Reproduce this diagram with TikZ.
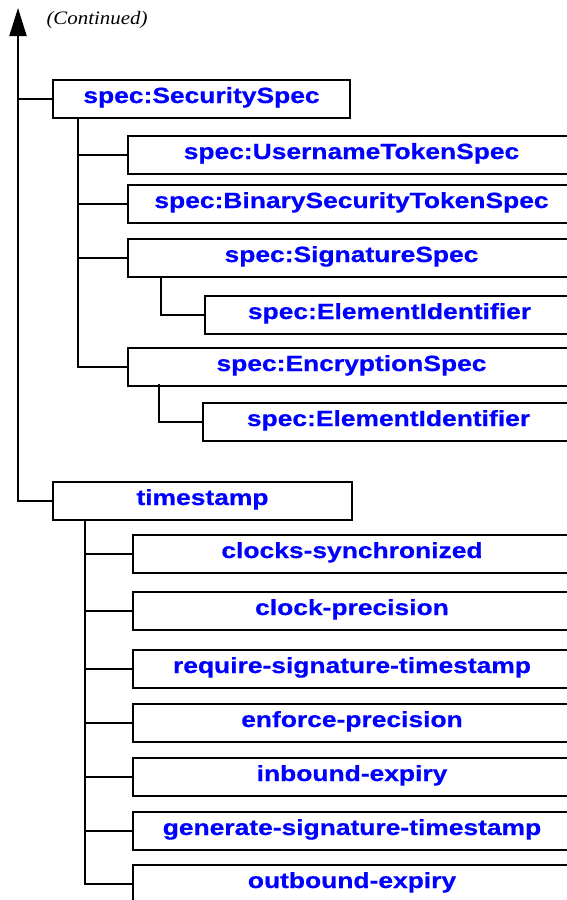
\documentclass[tikz,border=0pt]{standalone}
\usepackage{fontspec}
\usetikzlibrary{arrows.meta}
\newfontfamily\labfont[FakeStretch=1.2,FakeBold=0.6]{Liberation Sans Bold}
\newfontfamily\contfont[FakeStretch=1.1]{Liberation Serif Italic}
\begin{document}
\begin{tikzpicture}[x=1pt,y=-1pt,
  box/.style={draw, line width=2pt, inner sep=0pt, outer sep=0pt, anchor=north west,
    text height=14pt, text depth=6pt, text=blue, minimum height=38pt,
    font=\labfont\fontsize{22}{26}\selectfont},
  kid/.style={box, minimum width=447pt},
  tkid/.style={box, minimum width=438pt},
  conn/.style={line width=2pt}]
\clip (0,0) rectangle (567,900);
\fill[white] (0,0) rectangle (567,900);
% continued label
\node[anchor=base, inner sep=0pt, font=\contfont\fontsize{19}{22}\selectfont] (cont) at (97,24.5) {(Continued)};
\coordinate (tip) at (18,8);
% security spec branch
\node[box, minimum width=297pt] (ss) at (53,80) {spec:SecuritySpec};
\node[kid] (un) at (128,136) {spec:UsernameTokenSpec};
\node[kid] (bs) at (128,185) {spec:BinarySecurityTokenSpec};
\node[kid] (sig) at (128,239) {spec:SignatureSpec};
\node[box, minimum width=369pt] (ei1) at (205,296) {spec:ElementIdentifier};
\node[kid] (enc) at (128,348) {spec:EncryptionSpec};
\node[box, minimum width=371pt] (ei2) at (203,403) {spec:ElementIdentifier};
% timestamp branch
\node[box, minimum width=299pt] (ts) at (53,482) {timestamp};
\node[tkid] (cs) at (133,535) {clocks-synchronized};
\node[tkid] (cp) at (133,592) {clock-precision};
\node[tkid] (rs) at (133,650) {require-signature-timestamp};
\node[tkid] (ep) at (133,704) {enforce-precision};
\node[tkid] (ie) at (133,758) {inbound-expiry};
\node[tkid] (gs) at (133,812) {generate-signature-timestamp};
\node[tkid] (oe) at (133,865) {outbound-expiry};
% main trunk with arrow
\draw[conn, -{Triangle[length=28pt,width=17pt]}] (ts.west) -| (tip);
\draw[conn] (tip |- ss.west) -- (ss.west);
% security spec sub-trunk
\coordinate (t1) at ([xshift=25pt]ss.south west);
\draw[conn] (t1) |- (enc.west);
\draw[conn] (t1 |- un.west) -- (un.west);
\draw[conn] (t1 |- bs.west) -- (bs.west);
\draw[conn] (t1 |- sig.west) -- (sig.west);
\coordinate (t2) at ([xshift=33pt]sig.south west);
\draw[conn] (t2) |- (ei1.west);
\coordinate (t3) at ([xshift=31pt,yshift=2pt]enc.south west);
\draw[conn] (t3) |- (ei2.west);
% timestamp sub-trunk
\coordinate (t4) at ([xshift=32pt]ts.south west);
\draw[conn] (t4) |- (oe.west);
\foreach \n in {cs,cp,rs,ep,ie,gs}{\draw[conn] (t4 |- \n.west) -- (\n.west);}
\end{tikzpicture}
\end{document}
